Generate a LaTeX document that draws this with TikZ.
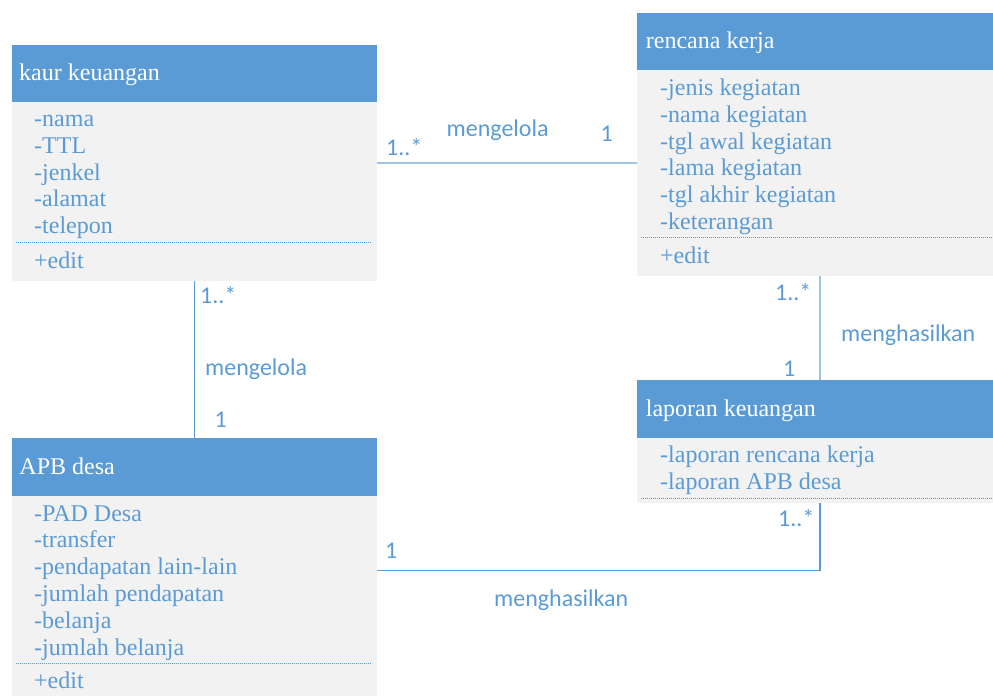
\documentclass[tikz,border=0pt]{standalone}
\usepackage{fontspec}
\setmainfont{Liberation Serif}
\newfontfamily\serfont{Liberation Serif}
\newfontfamily\lblfont{Carlito}
\usetikzlibrary{calc}
\definecolor{hdrblue}{HTML}{5B9BD5}
\definecolor{bodygray}{HTML}{F2F2F2}
\definecolor{txtblue}{HTML}{5B9BD5}
\definecolor{linelight}{HTML}{9DC3E6}
\definecolor{linedark}{HTML}{5B9BD5}
\tikzset{
  hdrbox/.style={rectangle, fill=hdrblue, draw=none, inner sep=0pt, anchor=north west},
  bodybox/.style={rectangle, fill=bodygray, draw=none, inner sep=0pt, anchor=north west},
  hdrtext/.style={anchor=base west, inner sep=0pt, text=white, font=\serfont\fontsize{24}{26}\selectfont},
  attrtext/.style={anchor=base west, inner sep=0pt, text=txtblue, font=\serfont\fontsize{24}{26}\selectfont},
  multext/.style={anchor=base west, inner sep=0pt, text=txtblue, font=\lblfont\fontsize{24}{26}\selectfont},
  sepline/.style={draw=txtblue, line width=0.8pt, dash pattern=on 1pt off 1pt},
  connlight/.style={draw=linelight, line width=1.8pt},
  conndark/.style={draw=linedark, line width=1.4pt},
}
\begin{document}
\begin{tikzpicture}[x=1pt,y=-1pt]
\useasboundingbox (0,0) rectangle (993,696);

% class: kaur keuangan
\node[hdrbox, minimum width=365pt, minimum height=57pt] (kaurhead) at (12,44.5) {};
\node[bodybox, minimum width=365pt, minimum height=179.5pt] (kaurbody) at (12,101.5) {};
\node[hdrtext] (kaurtitle) at (19,80.7) {kaur keuangan};
\foreach \t [count=\i] in {-nama,-TTL,-jenkel,-alamat,-telepon}
  \node[attrtext] (kaurattr\i) at (34,{126.5+(\i-1)*26.75}) {\t};
\draw[sepline] (16,242) -- (372,242);
\node[attrtext] (kauredit) at (34,268) {+edit};

% class: rencana kerja
\node[hdrbox, minimum width=356pt, minimum height=57.5pt] (renchead) at (637,12.5) {};
\node[bodybox, minimum width=356pt, minimum height=206pt] (rencbody) at (637,70) {};
\node[hdrtext] (renctitle) at (645.7,48.3) {rencana kerja};
\foreach \t [count=\i] in {-jenis kegiatan,-nama kegiatan,-tgl awal kegiatan,-lama kegiatan,-tgl akhir kegiatan,-keterangan}
  \node[attrtext] (rencattr\i) at (660,{95.7+(\i-1)*26.67}) {\t};
\draw[sepline] (641,237) -- (993,237);
\node[attrtext] (rencedit) at (660,263.3) {+edit};

% class: laporan keuangan
\node[hdrbox, minimum width=356pt, minimum height=58pt] (laphead) at (637,380) {};
\node[bodybox, minimum width=356pt, minimum height=65pt] (lapbody) at (637,438) {};
\node[hdrtext] (laptitle) at (645.7,416) {laporan keuangan};
\foreach \t [count=\i] in {-laporan rencana kerja,-laporan APB desa}
  \node[attrtext] (lapattr\i) at (660,{462.7+(\i-1)*26.67}) {\t};
\draw[sepline] (641,498) -- (993,498);

% class: APB desa
\node[hdrbox, minimum width=365pt, minimum height=58pt] (apbhead) at (12,438) {};
\node[bodybox, minimum width=365pt, minimum height=200pt] (apbbody) at (12,496) {};
\node[hdrtext] (apbtitle) at (19.3,474) {APB desa};
\foreach \t [count=\i] in {-PAD Desa,-transfer,-pendapatan lain-lain,-jumlah pendapatan,-belanja,-jumlah belanja}
  \node[attrtext] (apbattr\i) at (34,{521+(\i-1)*26.8}) {\t};
\draw[sepline] (16,663) -- (372,663);
\node[attrtext] (apbedit) at (34,688.3) {+edit};

% connector guides
\coordinate (kx) at (194.3,0);
\coordinate (rx) at (820,0);
\coordinate (ty) at (0,162.7);
\coordinate (by) at (0,570.3);

% kaur keuangan -- rencana kerja
\draw[connlight] (kaurbody.east |- ty) -- (rencbody.west |- ty);
\node[multext] (m1a) at (386,155) {1..*};
\node[multext] (m1b) at (446.5,136) {mengelola};
\node[multext] (m1c) at (600.5,141.7) {1};

% kaur keuangan -- APB desa
\draw[conndark] (kaurbody.south -| kx) -- (apbhead.north -| kx);
\node[multext] (m2a) at (200,303) {1..*};
\node[multext] (m2b) at (205,375) {mengelola};
\node[multext] (m2c) at (214.5,427) {1};

% rencana kerja -- laporan keuangan
\draw[connlight] (rencbody.south -| rx) -- (laphead.north -| rx);
\node[multext] (m3a) at (775,300.7) {1..*};
\node[multext] (m3b) at (841,341.7) {menghasilkan};
\node[multext] (m3c) at (783,376) {1};

% APB desa -- laporan keuangan
\draw[conndark] (apbbody.east |- by) -| (lapbody.south -| rx);
\node[multext] (m4a) at (385,558.3) {1};
\node[multext] (m4b) at (778,526) {1..*};
\node[multext] (m4c) at (494,606) {menghasilkan};
\end{tikzpicture}
\end{document}
